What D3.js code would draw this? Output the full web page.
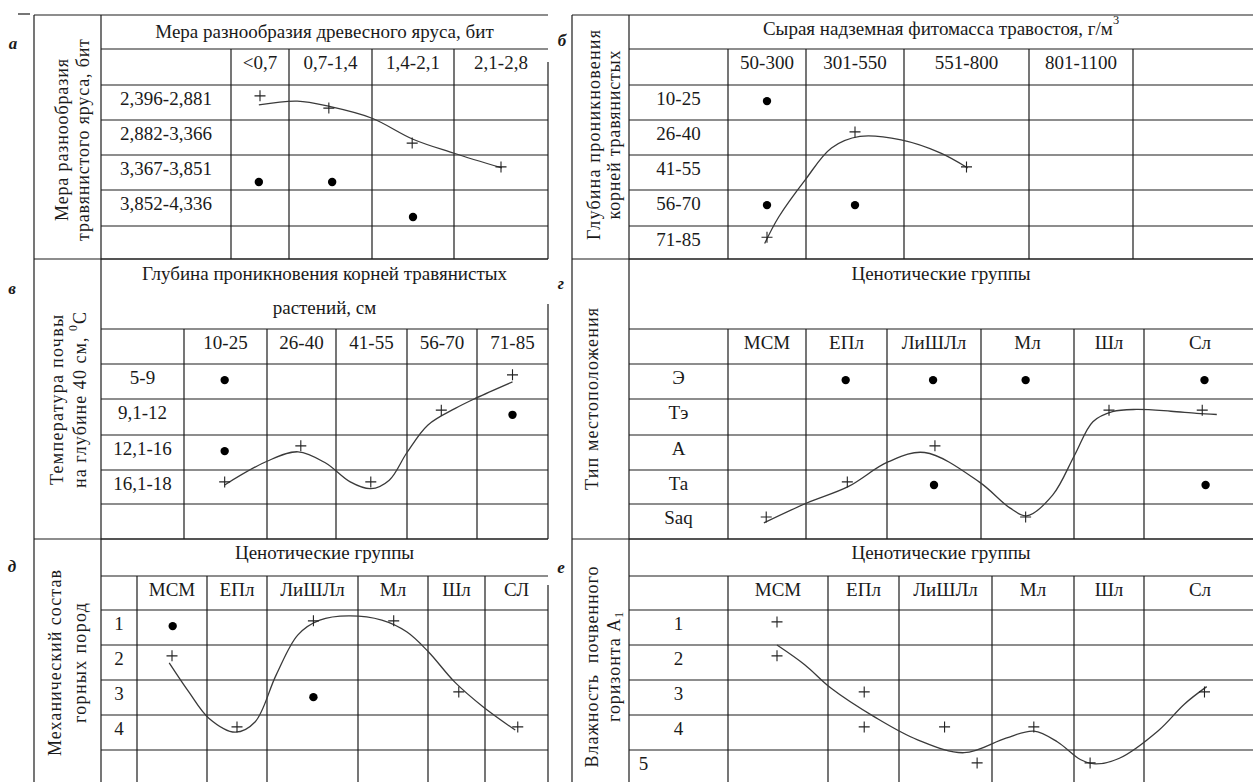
<!DOCTYPE html>
<html>
<head>
<meta charset="utf-8">
<script src="https://cdn.jsdelivr.net/npm/d3@7"></script>
<style>
  body { margin: 0; background: #fff; }
  text { font-family: "Liberation Serif", "Times New Roman", serif; fill: #1a1a1a; }
</style>
</head>
<body>
<div id="chart"></div>
<script>
// ---- data (x = column units, y = row units inside each table) ----
// а
const colsA = ["<0,7", "0,7-1,4", "1,4-2,1", "2,1-2,8"];
const rowsA = ["2,396-2,881", "2,882-3,366", "3,367-3,851", "3,852-4,336", ""];
const plusA = [[0.5, 0.31], [1.48, 0.66], [2.49, 1.66], [3.5, 2.34]];
const dotsA = [[0.48, 2.77], [1.52, 2.77], [2.5, 3.75]];
const lineA = [[0.48, 0.57], [1.1, 0.46], [1.5, 0.62], [2.0, 0.95], [2.5, 1.55], [3.0, 1.95], [3.51, 2.37]];

// б
const colsB = ["50-300", "301-550", "551-800", "801-1100", ""];
const rowsB = ["10-25", "26-40", "41-55", "56-70", "71-85"];
const plusB = [[1.5, 1.34], [2.5, 2.34], [0.5, 4.34]];
const dotsB = [[0.5, 0.46], [0.5, 3.42], [1.5, 3.42]];
const lineB = [[0.47, 4.53], [0.65, 3.75], [0.99, 2.71], [1.26, 1.8], [1.55, 1.47], [1.97, 1.57], [2.29, 1.94], [2.51, 2.37]];

// в
const colsV = ["10-25", "26-40", "41-55", "56-70", "71-85"];
const rowsV = ["5-9", "9,1-12", "12,1-16", "16,1-18", ""];
const plusV = [[4.5, 0.31], [3.49, 1.31], [1.49, 2.31], [0.49, 3.35], [2.49, 3.35]];
const dotsV = [[0.49, 0.46], [4.5, 1.44], [0.49, 2.46]];
const lineV = [[0.49, 3.44], [1.0, 2.75], [1.45, 2.48], [1.85, 2.8], [2.2, 3.35], [2.49, 3.55],
               [2.75, 3.3], [3.0, 2.5], [3.3, 1.72], [3.69, 1.26], [3.99, 0.97], [4.5, 0.51]];

// г
const colsG = ["МСМ", "ЕПл", "ЛиШЛл", "Мл", "Шл", "Сл"];
const rowsG = ["Э", "Тэ", "А", "Та", "Saq"];
const plusG = [[4.5, 1.31], [5.52, 1.31], [2.51, 2.31], [1.51, 3.35], [0.49, 4.37], [3.48, 4.37]];
const dotsG = [[1.49, 0.46], [2.49, 0.46], [3.48, 0.46], [5.54, 0.46], [2.5, 3.44], [5.55, 3.44]];
const lineG = [[0.46, 4.54], [1.01, 3.97], [1.52, 3.49], [2.01, 2.77], [2.4, 2.5], [2.98, 3.35], [3.31, 4.11],
               [3.49, 4.34], [3.77, 3.74], [4.01, 2.57], [4.27, 1.63], [4.55, 1.35], [4.89, 1.29], [5.24, 1.34], [5.47, 1.4], [5.65, 1.43]];

// д
const colsD = ["МСМ", "ЕПл", "ЛиШЛл", "Мл", "Шл", "СЛ"];
const rowsD = ["1", "2", "3", "4", ""];
const plusD = [[0.5, 1.31], [1.5, 3.34], [2.51, 0.31], [3.51, 0.31], [4.54, 2.34], [5.52, 3.34]];
const dotsD = [[0.51, 0.46], [2.51, 2.49]];
const lineD = [[0.46, 1.51], [0.74, 2.34], [1.03, 3.09], [1.47, 3.49], [1.8, 3.2], [2.1, 1.86], [2.34, 0.71], [2.58, 0.29],
               [2.9, 0.17], [3.34, 0.29], [3.7, 0.63], [4.01, 1.2], [4.47, 2.06], [4.97, 2.77], [5.48, 3.43]];

// е
const colsE = ["МСМ", "ЕПл", "ЛиШЛл", "Мл", "Шл", "Сл"];
const rowsE = ["1", "2", "3", "4", "5"];
const plusE = [[0.49, 0.34], [0.49, 1.31], [1.51, 2.34], [1.51, 3.34], [2.49, 3.34], [3.51, 3.34], [5.54, 2.34], [2.84, 4.38], [4.23, 4.38]];
const dotsE = [];
const lineE = [[0.49, 1.0], [0.77, 1.57], [1.04, 2.23], [1.66, 3.06], [2.2, 3.71], [2.7, 4.08], [3.17, 3.66],
               [3.51, 3.46], [3.8, 3.77], [4.09, 4.28], [4.3, 4.41], [4.64, 4.25], [5.13, 3.44], [5.36, 2.69], [5.56, 2.19]];

// ---- layout ----
const width = 1253, height = 782, fs = 19;

const panels = [
  { letter: "а", lx: 13, ly: 43, outer: 34, inner: 101, top: 15, titleBottom: 49, rightTop: 62, right: 548,
    colEdges: [231, 289, 372, 454, 548], rowEdges: [85, 120, 155, 190, 226, 259],
    title: ["Мера разнообразия древесного яруса, бит"], titleY: [31],
    axis: ["Мера разнообразия", "травянистого яруса, бит"], axisX: [62, 83], axisY: 140, axisLen: [162, 202],
    cols: colsA, rows: rowsA, plus: plusA, dots: dotsA, line: lineA },
  { letter: "б", lx: 562, ly: 40, outer: 572, inner: 629, top: 15, titleBottom: 49, rightTop: 15, right: 1256,
    colEdges: [728, 806, 904, 1029, 1133, 1256], rowEdges: [85, 120, 155, 190, 226, 259],
    title: ["Сырая надземная фитомасса  травостоя, г/м^3"], titleY: [28],
    axis: ["Глубина проникновения", "корней травянистых"], axisX: [594, 614], axisY: 135, axisLen: [210, 169],
    cols: colsB, rows: rowsB, plus: plusB, dots: dotsB, line: lineB },
  { letter: "в", lx: 12, ly: 288, outer: 34, inner: 101, top: 259, titleBottom: 329, rightTop: 304, right: 548,
    colEdges: [184, 267, 336, 407, 477, 548], rowEdges: [364, 399, 435, 470, 504, 539],
    title: ["Глубина проникновения корней травянистых", "растений, см"], titleY: [273, 307],
    axis: ["Температура почвы", "на глубине 40 см, ^0С"], axisX: [57, 80], axisY: 400, axisLen: [170, 176],
    cols: colsV, rows: rowsV, plus: plusV, dots: dotsV, line: lineV },
  { letter: "г", lx: 561, ly: 283, outer: 572, inner: 629, top: 259, titleBottom: 329, rightTop: 259, right: 1256,
    colEdges: [728, 806, 887, 981, 1074, 1144, 1256], rowEdges: [364, 399, 435, 470, 504, 539],
    title: ["Ценотические группы"], titleY: [273],
    axis: ["Тип местоположения"], axisX: [592], axisY: 399, axisLen: [182],
    cols: colsG, rows: rowsG, plus: plusG, dots: dotsG, line: lineG },
  { letter: "д", lx: 12, ly: 566, outer: 34, inner: 101, top: 539, titleBottom: 576, rightTop: 585, right: 548,
    colEdges: [137, 207, 267, 358, 428, 485, 548], rowEdges: [610, 645, 680, 715, 750, 784],
    title: ["Ценотические группы"], titleY: [552],
    axis: ["Механический состав", "горных пород"], axisX: [55, 80], axisY: 663, axisLen: [186, 120],
    cols: colsD, rows: rowsD, plus: plusD, dots: dotsD, line: lineD },
  { letter: "е", lx: 561, ly: 567, outer: 572, inner: 629, top: 539, titleBottom: 576, rightTop: 539, right: 1256,
    colEdges: [728, 828, 899, 992, 1074, 1144, 1256], rowEdges: [610, 645, 680, 715, 750, 784],
    title: ["Ценотические группы"], titleY: [552],
    axis: ["Влажность\u00a0\u00a0почвенного", "горизонта A_1"], axisX: [592, 614], axisY: 667, axisLen: [201, 110],
    lastRowShift: -35,
    cols: colsE, rows: rowsE, plus: plusE, dots: dotsE, line: lineE }
];

const svg = d3.select("#chart")
  .append("svg")
  .attr("width", width)
  .attr("height", height);

svg.append("rect").attr("width", width).attr("height", height).attr("fill", "#fff");

// writes "a^b" as superscript and "a_b" as subscript
function richText(sel, str, size) {
  const parts = str.split(/([\^_].)/).filter(s => s);
  let back = 0;
  parts.forEach(s => {
    if (s[0] === "^" || s[0] === "_") {
      const dy = s[0] === "^" ? -size * 0.4 : size * 0.25;
      sel.append("tspan").attr("font-size", size * 0.65).attr("dy", dy + back).text(s[1]);
      back = -dy;
    } else {
      const t = sel.append("tspan").text(s);
      if (back) t.attr("dy", back);
      back = 0;
    }
  });
}

const lineColor = "#1c1c1c";

function hLine(g, x1, x2, y) {
  g.append("line").attr("x1", x1).attr("x2", x2).attr("y1", y).attr("y2", y)
    .attr("stroke", lineColor).attr("stroke-width", 1.2);
}
function vLine(g, x, y1, y2) {
  g.append("line").attr("x1", x).attr("x2", x).attr("y1", y1).attr("y2", y2)
    .attr("stroke", lineColor).attr("stroke-width", 1.2);
}

function drawPanel(p) {
  const g = svg.append("g");
  const bottom = p.rowEdges[p.rowEdges.length - 1];

  const xScale = d3.scaleLinear().domain(d3.range(p.colEdges.length)).range(p.colEdges);
  const yScale = d3.scaleLinear().domain(d3.range(p.rowEdges.length)).range(p.rowEdges);

  // grid
  hLine(g, p.outer, p.right, p.top);
  hLine(g, p.inner, p.right, p.titleBottom);
  p.rowEdges.forEach(y => hLine(g, p.inner, p.right, y));
  vLine(g, p.outer, p.top, bottom);
  vLine(g, p.inner, p.top, bottom);
  p.colEdges.slice(0, -1).forEach(x => vLine(g, x, p.titleBottom, bottom));
  vLine(g, p.right, p.rightTop, bottom);

  // title
  p.title.forEach((t, i) => {
    const txt = g.append("text")
      .attr("x", (p.inner + Math.min(p.right, width)) / 2)
      .attr("y", p.titleY[i])
      .attr("text-anchor", "middle")
      .attr("dominant-baseline", "central")
      .attr("font-size", fs);
    richText(txt, t, fs);
  });

  // rotated axis title
  p.axis.forEach((t, i) => {
    const txt = g.append("text")
      .attr("transform", `translate(${p.axisX[i]},${p.axisY}) rotate(-90)`)
      .attr("text-anchor", "middle")
      .attr("dominant-baseline", "central")
      .attr("font-size", 18)
      .attr("textLength", p.axisLen[i])
      .attr("lengthAdjust", "spacing");
    richText(txt, t, 18);
  });

  // column headers
  g.selectAll(".col")
    .data(p.cols)
    .enter()
    .append("text")
    .attr("x", (d, i) => (xScale(i) + xScale(i + 1)) / 2)
    .attr("y", p.titleBottom + 13)
    .attr("text-anchor", "middle")
    .attr("dominant-baseline", "central")
    .attr("font-size", fs)
    .text(d => d);

  // row labels
  const labelX = (p.inner + p.colEdges[0]) / 2;
  g.selectAll(".row")
    .data(p.rows)
    .enter()
    .append("text")
    .attr("x", (d, i) => labelX + (p.lastRowShift && i === p.rows.length - 1 ? p.lastRowShift : 0))
    .attr("y", (d, i) => yScale(i) + 13)
    .attr("text-anchor", "middle")
    .attr("dominant-baseline", "central")
    .attr("font-size", fs)
    .text(d => d);

  // curve
  const line = d3.line()
    .x(d => xScale(d[0]))
    .y(d => yScale(d[1]))
    .curve(d3.curveCatmullRom.alpha(0.5));

  g.append("path")
    .datum(p.line)
    .attr("d", line)
    .attr("fill", "none")
    .attr("stroke", "#3a3a3a")
    .attr("stroke-width", 1.3);

  // plus marks
  g.selectAll(".plus")
    .data(p.plus)
    .enter()
    .append("path")
    .attr("transform", d => `translate(${xScale(d[0])},${yScale(d[1])})`)
    .attr("d", "M-5.5,0H5.5M0,-5.5V5.5")
    .attr("stroke", "#222")
    .attr("stroke-width", 1.1);

  // dots
  g.selectAll(".dot")
    .data(p.dots)
    .enter()
    .append("circle")
    .attr("cx", d => xScale(d[0]))
    .attr("cy", d => yScale(d[1]))
    .attr("r", 4.2)
    .attr("fill", "#000");

  // panel letter
  svg.append("text")
    .attr("x", p.lx)
    .attr("y", p.ly)
    .attr("text-anchor", "middle")
    .attr("dominant-baseline", "central")
    .attr("font-size", 17)
    .attr("font-style", "italic")
    .attr("font-weight", "bold")
    .text(p.letter);
}

panels.forEach(drawPanel);

// small stray dash at the top left corner of the scan
hLine(svg, 18, 30, 14);
</script>
</body>
</html>
